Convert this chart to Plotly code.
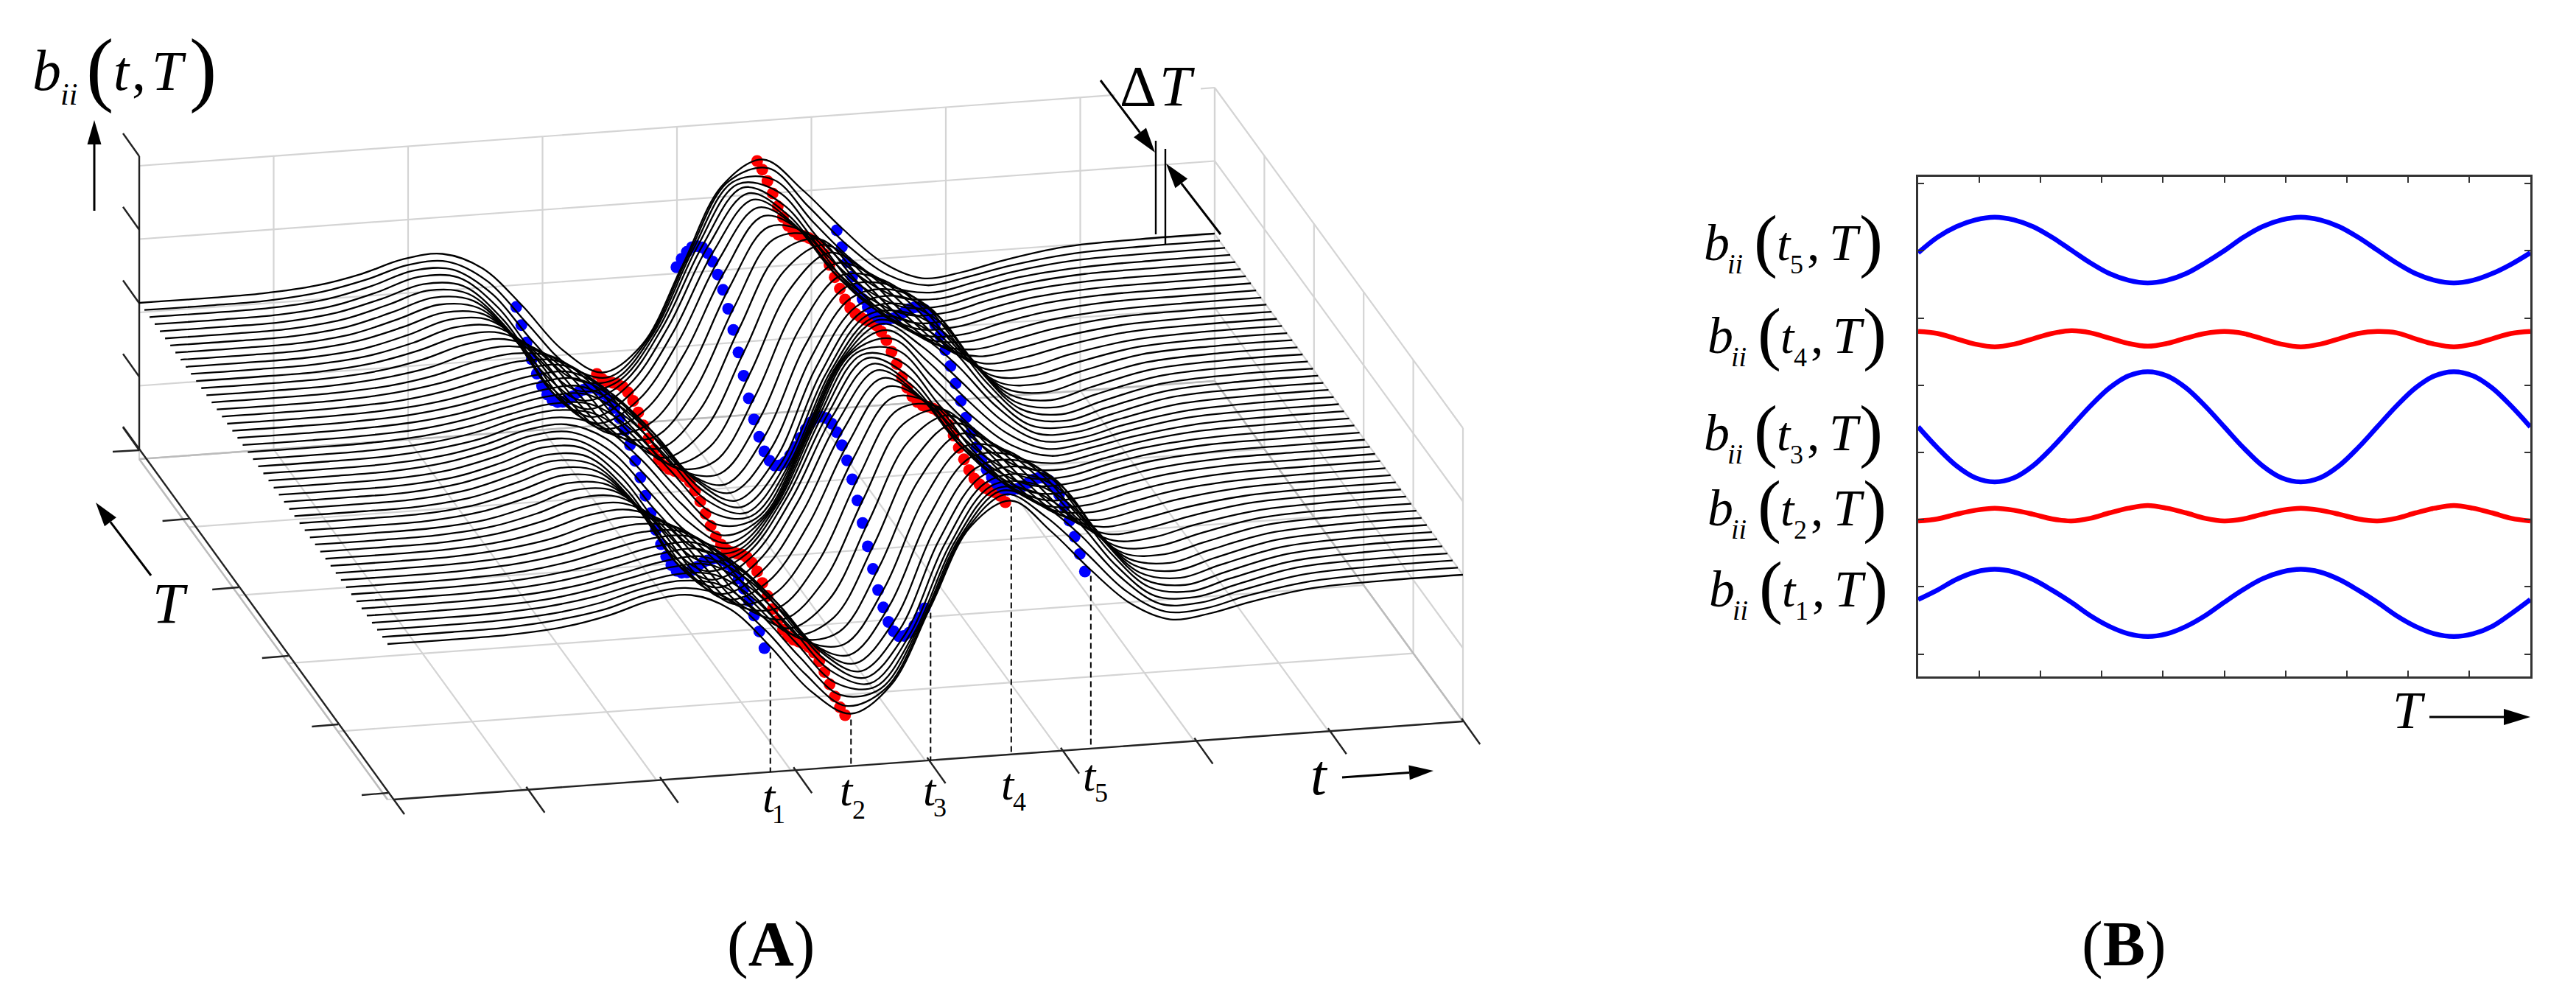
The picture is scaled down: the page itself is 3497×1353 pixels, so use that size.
import numpy as np
import plotly.graph_objects as go

# Panel A: height of the surface, in pixels over the sloped base line.
# Every row is one phase of the T modulation, columns follow t_grid.
t_grid = [0.0, 0.065, 0.115, 0.165, 0.207, 0.245, 0.282, 0.319, 0.356, 0.393, 0.431, 0.468,
          0.505, 0.542, 0.580, 0.617, 0.654, 0.691, 0.728, 0.766, 0.803, 0.86, 0.93, 1.0]
surface_rows = [
    [0, 0.5, 2, 10, 26, 42, 34, -19, -98, -134, -102, -25, 80, 147, 110, 41, -7, -34, -33, -20, -10, -3, -1, 0],
    [0, 0.5, 2, 10, 26, 42, 34, -18, -96, -133, -104, -28, 78, 146, 112, 43, -6, -33, -33, -20, -10, -3, -1, 0],
    [0, 0.5, 2, 10, 25, 41, 35, -14, -89, -131, -110, -37, 70, 144, 117, 50, -2, -32, -34, -21, -11, -3, -1, 0],
    [0, 0.5, 2, 9, 24, 41, 37, -7, -79, -127, -118, -51, 59, 139, 125, 59, 5, -28, -34, -23, -12, -4, -1, 0],
    [0, 0.5, 2, 9, 23, 40, 38, 1, -66, -120, -126, -67, 43, 132, 132, 71, 15, -24, -35, -25, -14, -4, -1, 0],
    [0, 0.5, 2, 9, 22, 38, 39, 9, -52, -111, -132, -84, 24, 122, 138, 83, 26, -17, -35, -27, -16, -5, -1, 0],
    [0, 0.5, 2, 8, 20, 36, 40, 17, -37, -100, -135, -100, 3, 108, 140, 95, 39, -10, -35, -30, -18, -5, -1, 0],
    [0, 0.5, 2, 8, 18, 34, 40, 24, -24, -87, -134, -114, -19, 92, 139, 105, 53, -2, -34, -33, -20, -6, -1, 0],
    [0, 0.5, 2, 7, 17, 32, 40, 31, -12, -74, -129, -124, -40, 75, 134, 113, 67, 7, -33, -35, -22, -6, -1, 0],
    [0, 0.5, 2, 7, 16, 29, 39, 35, -2, -62, -122, -131, -59, 59, 127, 119, 79, 14, -32, -37, -24, -6, -1, 0],
    [0, 0.5, 2, 6, 15, 28, 39, 39, 5, -51, -115, -136, -73, 45, 121, 122, 89, 21, -30, -39, -25, -7, -1, 0],
    [0, 0.5, 2, 6, 14, 26, 38, 40, 9, -44, -110, -138, -83, 36, 116, 124, 95, 25, -29, -40, -26, -7, -1, 0],
    [0, 0.5, 2, 6, 14, 26, 38, 41, 10, -42, -108, -139, -86, 33, 114, 125, 97, 26, -29, -40, -26, -7, -1, 0],
]
# which row each of the 49 curves uses, front curve first
row_order = [6, 7, 8, 9, 10, 11, 12, 11, 10, 9, 8, 7, 6, 5, 4, 3, 2, 1, 0, 1, 2, 3, 4, 5, 6,
             7, 8, 9, 10, 11, 12, 11, 10, 9, 8, 7, 6, 5, 4, 3, 2, 1, 0, 1, 2, 3, 4, 5, 6]
# columns of t_grid where the dots sit: t1..t5
dot_columns = [8, 10, 12, 14, 16]
dot_colors = ["#0000ff", "#ff0000", "#0000ff", "#ff0000", "#0000ff"]

# Panel B: the five cuts b_ii(t_k, T)
T_values = [0, 0.03125, 0.0625, 0.09375, 0.125, 0.15625, 0.1875, 0.21875, 0.25, 0.28125, 0.3125,
            0.34375, 0.375, 0.40625, 0.4375, 0.46875, 0.5, 0.53125, 0.5625, 0.59375, 0.625, 0.65625,
            0.6875, 0.71875, 0.75, 0.78125, 0.8125, 0.84375, 0.875, 0.90625, 0.9375, 0.96875, 1]
b_t1 = [0.81, 0.95, 1.11, 1.22, 1.26, 1.22, 1.11, 0.95, 0.77, 0.57, 0.41, 0.30, 0.26, 0.30, 0.41, 0.57, 0.77,
        0.96, 1.12, 1.22, 1.26, 1.22, 1.11, 0.95, 0.77, 0.57, 0.41, 0.30, 0.26, 0.30, 0.41, 0.60, 0.81]
b_t2 = [1.98, 2.01, 2.08, 2.14, 2.17, 2.14, 2.08, 2.01, 1.98, 2.02, 2.10, 2.17, 2.21, 2.17, 2.10, 2.02, 1.98,
        2.01, 2.08, 2.14, 2.17, 2.14, 2.08, 2.01, 1.98, 2.02, 2.10, 2.17, 2.21, 2.17, 2.10, 2.02, 1.98]
b_t3 = [3.38, 3.07, 2.80, 2.62, 2.56, 2.62, 2.80, 3.07, 3.38, 3.69, 3.96, 4.14, 4.20, 4.14, 3.96, 3.69, 3.38,
        3.07, 2.80, 2.62, 2.56, 2.62, 2.80, 3.07, 3.38, 3.69, 3.96, 4.14, 4.20, 4.14, 3.96, 3.69, 3.38]
b_t4 = [4.80, 4.77, 4.69, 4.61, 4.57, 4.61, 4.69, 4.77, 4.81, 4.78, 4.70, 4.62, 4.58, 4.62, 4.70, 4.77, 4.80,
        4.77, 4.69, 4.61, 4.57, 4.61, 4.69, 4.77, 4.80, 4.78, 4.69, 4.61, 4.57, 4.61, 4.69, 4.77, 4.80]
b_t5 = [5.97, 6.20, 6.36, 6.46, 6.50, 6.46, 6.36, 6.20, 6.01, 5.82, 5.66, 5.56, 5.52, 5.56, 5.66, 5.82, 6.00,
        6.20, 6.36, 6.46, 6.50, 6.46, 6.36, 6.20, 6.01, 5.82, 5.66, 5.56, 5.52, 5.56, 5.66, 5.80, 5.97]

FONT = "Liberation Serif"
GRID = "#d4d4d4"
EDGE = "#bcbcbc"
AXIS = "#222222"

fig = go.Figure()


def box(t, b, z):
    # grey box: t along the front edge, b towards the viewer, z up (all 0..1)
    return 189 + 1460 * t + 337 * b, 623 - 106 * t + 462 * b - 398 * z


def curve_xy(t, b, h):
    return 189 + 1460 * t + 337 * b, 411 - 94 * t + 463 * b - h


def segs(pairs, color, width, dash=None):
    xs, ys = [], []
    for (x0, y0), (x1, y1) in pairs:
        xs += [x0, x1, None]
        ys += [y0, y1, None]
    fig.add_trace(go.Scatter(x=xs, y=ys, mode="lines", hoverinfo="skip",
                             line=dict(color=color, width=width, dash=dash)))


def arrow(x0, y0, x1, y1, length, w):
    d = np.array([x1 - x0, y1 - y0], dtype=float)
    d = d / np.hypot(*d)
    n = np.array([-d[1], d[0]])
    tip = np.array([x1, y1], dtype=float)
    base = tip - d * length
    segs([((x0, y0), (base[0], base[1]))], "black", 3)
    corners = [base + n * w / 2, tip, base - n * w / 2]
    fig.add_trace(go.Scatter(x=[c[0] for c in corners], y=[c[1] for c in corners], mode="lines",
                             fill="toself", fillcolor="black", hoverinfo="skip",
                             line=dict(color="black", width=0)))


def text(x, base, s, size):
    # base is the baseline of the text in picture pixels
    fig.add_annotation(x=x, y=base - 0.34 * size, xref="x", yref="y", text=s, showarrow=False,
                       xanchor="center", yanchor="middle",
                       font=dict(family=FONT, size=size, color="black"))


def b_label(dx, dy, sub):
    text(2330 + dx, 353 + dy, "<i>b</i>", 70)
    text(2355 + dx, 371 + dy, "<i>ii</i>", 38)
    text(2397 + dx, 358 + dy, "(", 96)
    text(2422 + dx, 353 + dy, "<i>t</i>", 66)
    text(2439 + dx, 371 + dy, sub, 36)
    text(2462 + dx, 353 + dy, ",", 70)
    text(2505 + dx, 353 + dy, "<i>T</i>", 70)
    text(2540 + dx, 358 + dy, ")", 96)


# grey walls and floor
grid = []
for k in range(5):
    z = k / 4
    if k == 4:
        grid.append((box(0, 0, z), box(0.907, 0, z)))
        grid.append((box(0.987, 0, z), box(1, 0, z)))
    else:
        grid.append((box(0, 0, z), box(1, 0, z)))
    grid.append((box(1, 0, z), box(1, 1, z)))
for k in range(9):
    grid.append((box(k / 8, 0, 0), box(k / 8, 0, 1)))
    grid.append((box(k / 8, 0, 0), box(k / 8, 1, 0)))
for k in range(6):
    grid.append((box(1, k / 5, 0), box(1, k / 5, 1)))
    grid.append((box(0, k / 5, 0), box(1, k / 5, 0)))
segs(grid, GRID, 2.2)
segs([(box(0, 0, 0), box(1, 0, 0)), (box(1, 0, 0), box(1, 1, 0)), (box(0, 0, 0), box(0, 1, 0))], EDGE, 2.4)

# black axes with their ticks
axes = [((189, 212), (189, 611)), ((167, 579), (549, 1105)), ((535, 1085), (1986, 979))]
for k in range(5):
    y = 212 + k * 99.75
    axes.append(((167, y - 31), (189, y)))
axes.append(((153, 613), (189, 611)))
for k in range(1, 6):
    x, y = 189 + k * 67.6, 611 + k * 93
    axes.append(((x - 36, y + 3), (x, y)))
for k in range(1, 9):
    x, y = 535 + k * 181.4, 1085 - k * 13.25
    axes.append(((x - 2, y - 4), (x + 23, y + 31)))
segs(axes, AXIS, 2.4)

# dots first, the curves run over them
n_curves = len(row_order)
for col, color in zip(dot_columns, dot_colors):
    xs, ys = [], []
    for i in range(n_curves):
        x, y = curve_xy(t_grid[col], 1 - i / (n_curves - 1), surface_rows[row_order[i]][col])
        xs.append(x - 8)
        ys.append(y + 2)
    fig.add_trace(go.Scatter(x=xs, y=ys, mode="markers", hoverinfo="skip",
                             marker=dict(color=color, size=16, line=dict(width=0))))

for i in range(n_curves):
    xy = [curve_xy(t, 1 - i / (n_curves - 1), h) for t, h in zip(t_grid, surface_rows[row_order[i]])]
    fig.add_trace(go.Scatter(x=[p[0] for p in xy], y=[p[1] for p in xy], mode="lines", hoverinfo="skip",
                             line=dict(color="black", width=2.3, shape="spline", smoothing=1.0)))

# dashed drop lines from the front curve to the t axis
drops = []
for col in dot_columns:
    x, y = curve_xy(t_grid[col], 1, surface_rows[row_order[0]][col])
    drops.append(((x, y + 8), (x, 1085 - (x - 535) * 0.0731)))
segs(drops, "black", 2, "8px,5px")

# Delta T marks
segs([((1569, 191), (1569, 318)), ((1582, 202), (1582, 332))], "black", 2.4)
arrow(1494, 109, 1568, 207, 34, 21)
arrow(1657, 318, 1583, 222, 34, 21)
arrow(128, 286, 128, 163, 33, 19)
arrow(205, 781, 130, 682, 33, 20)
arrow(1822, 1055, 1946, 1046, 33, 20)
arrow(3298, 973, 3435, 973, 36, 22)

# texts of panel A
text(63, 122, "<i>b</i>", 78)
text(93, 142, "<i>ii</i>", 42)
text(135, 130, "(", 112)
text(165, 122, "<i>t</i>", 76)
text(188, 122, ",", 76)
text(229, 122, "<i>T</i>", 76)
text(275, 130, ")", 112)
text(231, 845, "<i>T</i>", 78)
text(1545, 143, "Δ", 78)
text(1598, 143, "<i>T</i>", 78)
text(1791, 1078, "<i>t</i>", 78)
t_label_x = [1044, 1149, 1262, 1368, 1479]
t_label_y = [1102, 1093, 1093, 1085, 1073]
sub_label_x = [1057, 1166, 1276, 1384, 1495]
sub_label_y = [1117, 1111, 1108, 1100, 1088]
for k in range(5):
    text(t_label_x[k], t_label_y[k], "<i>t</i>", 62)
    text(sub_label_x[k], sub_label_y[k], str(k + 1), 36)
text(1046, 1310, "(<b>A</b>)", 86)
text(2883, 1310, "(<b>B</b>)", 86)

# panel B
for name, vals, color in [("t1", b_t1, "#0000ff"), ("t2", b_t2, "#ff0000"), ("t3", b_t3, "#0000ff"),
                          ("t4", b_t4, "#ff0000"), ("t5", b_t5, "#0000ff")]:
    fig.add_trace(go.Scatter(x=T_values, y=vals, mode="lines", xaxis="x2", yaxis="y2", name=name,
                             hoverinfo="skip", line=dict(color=color, width=6.5, shape="spline", smoothing=1.0)))
b_label(0, 0, "5")
b_label(5, 126, "4")
b_label(0, 258, "3")
b_label(5, 360, "2")
b_label(7, 470, "1")
text(3270, 988, "<i>T</i>", 72)

fig.update_layout(
    width=3497,
    height=1353,
    margin=dict(l=0, r=0, t=0, b=0),
    showlegend=False,
    paper_bgcolor="white",
    plot_bgcolor="rgba(0,0,0,0)",
    xaxis=dict(range=[0, 3497], visible=False, domain=[0, 1]),
    yaxis=dict(range=[1353, 0], visible=False, domain=[0, 1]),
    xaxis2=dict(domain=[2604 / 3497, 3435 / 3497], anchor="y2", range=[0, 1], dtick=0.1, tick0=0,
                ticks="inside", ticklen=8, tickwidth=2, tickcolor="#333333", showticklabels=False,
                showgrid=False, zeroline=False, showline=True, linecolor="#333333", linewidth=2.5, mirror="ticks"),
    yaxis2=dict(domain=[(1353 - 918) / 1353, (1353 - 240) / 1353], anchor="x2", range=[-0.334, 7.10], dtick=1, tick0=0,
                ticks="inside", ticklen=8, tickwidth=2, tickcolor="#333333", showticklabels=False,
                showgrid=False, zeroline=False, showline=True, linecolor="#333333", linewidth=2.5, mirror="ticks"),
)

fig.write_html("out.html", post_script="document.body.style.margin='0';", config={"displayModeBar": False})
